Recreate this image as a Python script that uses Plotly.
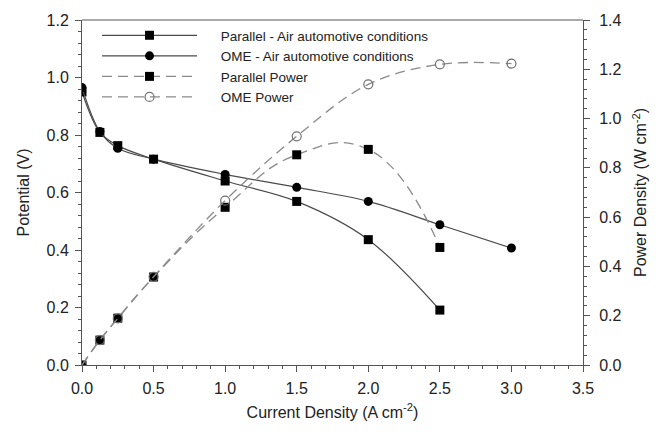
import plotly.graph_objects as go

current = [0.0, 0.125, 0.25, 0.5, 1.0, 1.5, 2.0, 2.5]
current_ome = [0.0, 0.125, 0.25, 0.5, 1.0, 1.5, 2.0, 2.5, 3.0]

parallel_v = [0.95, 0.809, 0.763, 0.716, 0.640, 0.569, 0.436, 0.191]
ome_v = [0.965, 0.812, 0.754, 0.716, 0.663, 0.618, 0.569, 0.488, 0.407]

parallel_p = [0.0, 0.101, 0.190, 0.357, 0.640, 0.853, 0.875, 0.477]
ome_p = [0.0, 0.101, 0.189, 0.358, 0.667, 0.928, 1.139, 1.220, 1.223]

names = ["Parallel - Air automotive conditions", "OME - Air automotive conditions",
         "Parallel Power", "OME Power"]

FONT = "Liberation Sans, Arial, sans-serif"
solid_c = "#4a4a4a"
dash_c = "#8a8a8a"
PAD = "\u00a0" * 5

fig = go.Figure()
fig.add_trace(go.Scatter(x=current, y=parallel_v, name=PAD + names[0], mode="lines+markers",
                         line=dict(color=solid_c, width=1.2, shape="spline"),
                         marker=dict(symbol="square", size=9, color="black")))
fig.add_trace(go.Scatter(x=current_ome, y=ome_v, name=PAD + names[1], mode="lines+markers",
                         line=dict(color=solid_c, width=1.2, shape="spline"),
                         marker=dict(symbol="circle", size=9, color="black")))
fig.add_trace(go.Scatter(x=current, y=parallel_p, name=PAD + names[2], mode="lines+markers", yaxis="y2",
                         line=dict(color=dash_c, width=1.3, shape="spline", smoothing=1.3,
                                   dash="10px,6px"),
                         marker=dict(symbol="square", size=9, color="black")))
fig.add_trace(go.Scatter(x=current_ome, y=ome_p, name=PAD + names[3], mode="lines+markers", yaxis="y2",
                         line=dict(color=dash_c, width=1.3, shape="spline", dash="10px,6px"),
                         marker=dict(symbol="circle-open", size=9, color="#707070",
                                     line=dict(width=1.2))))

axis_common = dict(showgrid=False, zeroline=False, showline=True, linecolor="#555555", linewidth=1,
                   ticks="outside", ticklen=6, tickcolor="#555555",
                   tickfont=dict(family=FONT, size=16, color="#222222"),
                   title_font=dict(family=FONT, size=16, color="#222222"))

fig.update_layout(
    width=659, height=440,
    margin=dict(l=82, r=76, t=15, b=75),
    plot_bgcolor="white", paper_bgcolor="white",
    font=dict(family=FONT, color="#222222"),
    xaxis=dict(range=[0, 3.5], dtick=0.5, tickformat=".1f", mirror=False, ticklabelstandoff=3,
               title=dict(text="Current Density (A cm<sup>-2</sup>)", standoff=10),
               minor=dict(dtick=0.1, ticks="outside", ticklen=3, tickcolor="#555555"),
               **axis_common),
    yaxis=dict(range=[0, 1.2], dtick=0.2, tickformat=".1f", ticklabelstandoff=3,
               title=dict(text="Potential (V)", standoff=12),
               minor=dict(dtick=0.04, ticks="outside", ticklen=3, tickcolor="#555555"),
               **axis_common),
    yaxis2=dict(range=[0, 1.4], dtick=0.2, tickformat=".1f", overlaying="y", side="right",
                ticklabelstandoff=6,
                title=dict(text="Power Density (W cm<sup>-2</sup>)", standoff=14),
                minor=dict(dtick=0.04, ticks="outside", ticklen=3, tickcolor="#555555"),
                **axis_common),
    legend=dict(x=0.03, y=1.0, xanchor="left", yanchor="top", bgcolor="rgba(0,0,0,0)",
                font=dict(family=FONT, size=13.5, color="#222222"), itemwidth=95,
                tracegroupgap=0),
    showlegend=True,
)

# top border line
fig.add_shape(type="line", xref="paper", yref="paper", x0=0, x1=1, y0=1, y1=1,
              line=dict(color="#555555", width=1))

fig.write_html("out.html")
